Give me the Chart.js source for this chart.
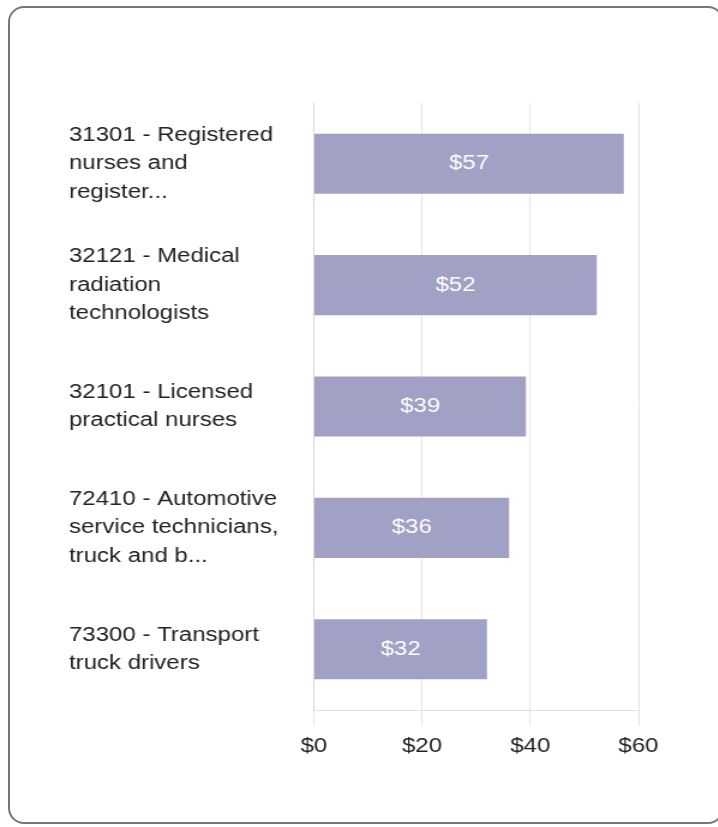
<!DOCTYPE html>
<html>
<head>
<meta charset="utf-8">
<script src="https://cdn.jsdelivr.net/npm/chart.js@4"></script>
<style>
    html, body { margin: 0; padding: 0; background: #fff; overflow: hidden; }
    #card {
        position: absolute;
        left: 8px; top: 6px;
        width: 716px; height: 818px;
        border: 2px solid #777;
        border-radius: 16px;
        box-sizing: border-box;
    }
    /* the source chart is stretched horizontally, text included */
    #wrap {
        position: absolute; left: 0; top: 0;
        width: 598px; height: 827px;
        transform: scaleX(1.2);
        transform-origin: 0 0;
    }
</style>
</head>
<body>
<div id="card"></div>
<div id="wrap"><canvas id="wageChart" width="598" height="827"></canvas></div>
<script>
// Occupations (labels already truncated as in the source)
const occupations = [
    ['31301 - Registered', 'nurses and', 'register...'],
    ['32121 - Medical', 'radiation', 'technologists'],
    ['32101 - Licensed', 'practical nurses'],
    ['72410 - Automotive', 'service technicians,', 'truck and b...'],
    ['73300 - Transport', 'truck drivers']
];
// Hourly wage ($)
const wages = [57.3, 52.3, 39.2, 36.1, 32.0];
const xTicks = [0, 20, 40, 60];

const FONT = 'Arial, "Liberation Sans", sans-serif';

// Draw the rounded value in the middle of each bar
const barValueLabels = {
    id: 'barValueLabels',
    afterDatasetsDraw(chart) {
        const ctx = chart.ctx;
        const meta = chart.getDatasetMeta(0);
        ctx.save();
        ctx.fillStyle = '#ffffff';
        ctx.font = '20px ' + FONT;
        ctx.textAlign = 'center';
        ctx.textBaseline = 'middle';
        meta.data.forEach((bar, i) => {
            const cx = (bar.x + bar.base) / 2;
            ctx.fillText('$' + Math.round(wages[i]), cx, bar.y);
        });
        ctx.restore();
    }
};

const ctx = document.getElementById('wageChart').getContext('2d');
new Chart(ctx, {
    type: 'bar',
    data: {
        labels: occupations,
        datasets: [{
            data: wages,
            backgroundColor: '#a1a1c5',
            borderWidth: 0,
            categoryPercentage: 1,
            barPercentage: 0.495
        }]
    },
    options: {
        indexAxis: 'y',
        responsive: false,
        animation: false,
        layout: {
            padding: { top: 103, right: 66, bottom: 72, left: 57.5 }
        },
        plugins: {
            legend: { display: false },
            tooltip: { enabled: false }
        },
        scales: {
            x: {
                min: 0,
                max: 60,
                afterBuildTicks: function(scale) {
                    scale.ticks = xTicks.map(v => ({ value: v }));
                },
                afterFit: function(scale) {
                    scale.height = 45;
                },
                grid: {
                    color: '#e3e3e3',
                    lineWidth: 1,
                    tickLength: 16
                },
                border: { display: true, color: '#e3e3e3' },
                ticks: {
                    color: '#222',
                    font: { family: FONT, size: 20 },
                    padding: 8,
                    callback: function(value) {
                        return '$' + value;
                    }
                }
            },
            y: {
                afterFit: function(scale) {
                    scale.width = 204;
                },
                grid: { display: false, drawTicks: false },
                border: { display: true, color: '#d6d6d6' },
                ticks: {
                    color: '#222',
                    crossAlign: 'far',
                    padding: 29,
                    font: { family: FONT, size: 20, lineHeight: 1.42 }
                }
            }
        }
    },
    plugins: [barValueLabels]
});
</script>
</body>
</html>
